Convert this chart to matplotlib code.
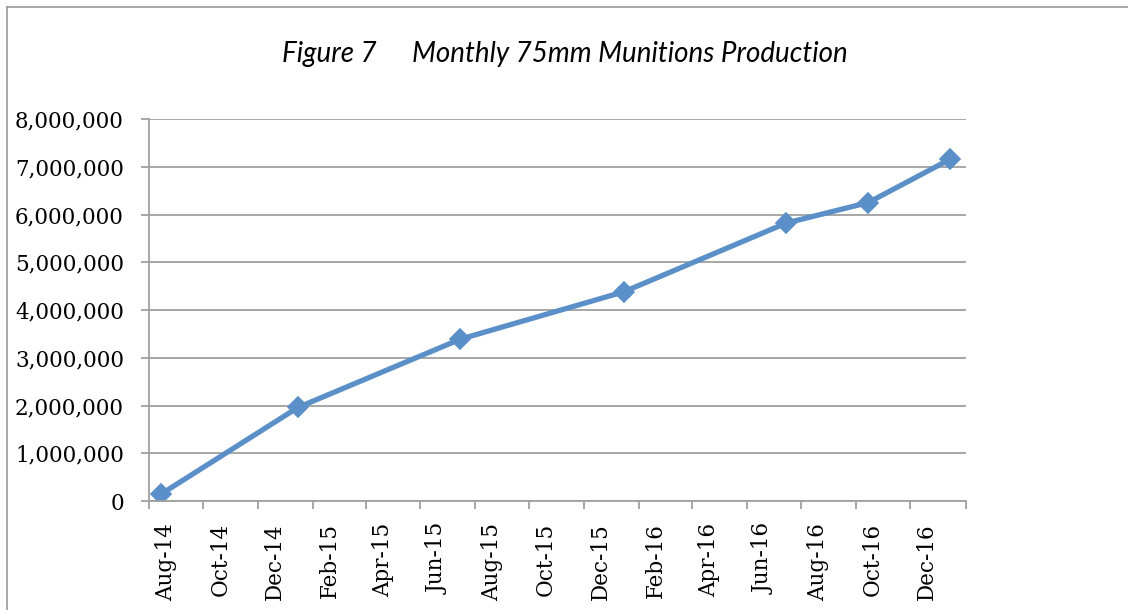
import numpy as np
import pandas as pd
import matplotlib
matplotlib.use("Agg")
import matplotlib.pyplot as plt
from matplotlib.lines import Line2D
from matplotlib.ticker import FuncFormatter, MultipleLocator
from matplotlib.transforms import ScaledTranslation

# monthly production readings (mid-month)
dates = ["2014-08-15", "2015-01-15", "2015-07-16", "2016-01-15",
         "2016-07-15", "2016-10-15", "2017-01-15"]
production = [150000, 1960000, 3390000, 4380000, 5820000, 6250000, 7160000]

fig_label = "Figure 7"
title = "Monthly 75mm Munitions Production"

x = pd.to_datetime(dates)
blue = "#5A8FC8"
grey = "#A0A0A0"

fig = plt.figure(figsize=(11.28, 6.10), dpi=100)
ax = fig.add_axes([149 / 1128, 109 / 610, 816.5 / 1128, 382 / 610])

ax.plot(x, production, color=blue, lw=3.8, marker="D", ms=10.5,
        mfc=blue, mec=blue, mew=1.2, solid_joinstyle="round")

ax.set_xlim(pd.Timestamp("2014-08-01"), pd.Timestamp("2017-02-01"))
ax.set_ylim(0, 8000000)
ax.yaxis.set_major_locator(MultipleLocator(1000000))
ax.yaxis.set_major_formatter(FuncFormatter(lambda v, p: f"{int(v):,}"))

ticks = pd.date_range("2014-08-01", "2016-12-01", freq="2MS")
ax.set_xticks(ticks)
ax.set_xticklabels([t.strftime("%b-%y") for t in ticks], rotation=90)
ax.set_xticks([pd.Timestamp("2017-02-01")], minor=True)

ax.grid(axis="y", color=grey, lw=1.3)
ax.set_axisbelow(True)
for s in ["top", "right"]:
    ax.spines[s].set_visible(False)
for s in ["left", "bottom"]:
    ax.spines[s].set_color(grey)
    ax.spines[s].set_linewidth(1.3)

ax.tick_params(axis="both", which="both", colors=grey, width=1.3, length=6,
               labelcolor="black", labelsize=15.5)
ax.tick_params(axis="x", which="both", pad=10)
ax.tick_params(axis="y", pad=12)
for lab in ax.get_xticklabels() + ax.get_yticklabels():
    lab.set_family("DejaVu Serif")

# Excel draws the date labels a bit to the right of their ticks
shift = ScaledTranslation(0.17, 0, fig.dpi_scale_trans)
for t in ax.xaxis.get_major_ticks():
    t.label1.set_transform(t.label1.get_transform() + shift)

ty = 1 - 62 / 610
fig.text(282 / 1128, ty, fig_label, ha="left", va="baseline",
         fontsize=20, style="italic", family="Lato")
fig.text(412 / 1128, ty, title, ha="left", va="baseline",
         fontsize=20, style="italic", family="Lato")

# outer chart frame (cut off at right and bottom)
fig.add_artist(Line2D([7 / 1128, 1], [1 - 7 / 610, 1 - 7 / 610],
                      transform=fig.transFigure, color=grey, lw=1.3))
fig.add_artist(Line2D([7 / 1128, 7 / 1128], [0, 1 - 7 / 610],
                      transform=fig.transFigure, color=grey, lw=1.3))

fig.savefig("out.png", dpi=100)
